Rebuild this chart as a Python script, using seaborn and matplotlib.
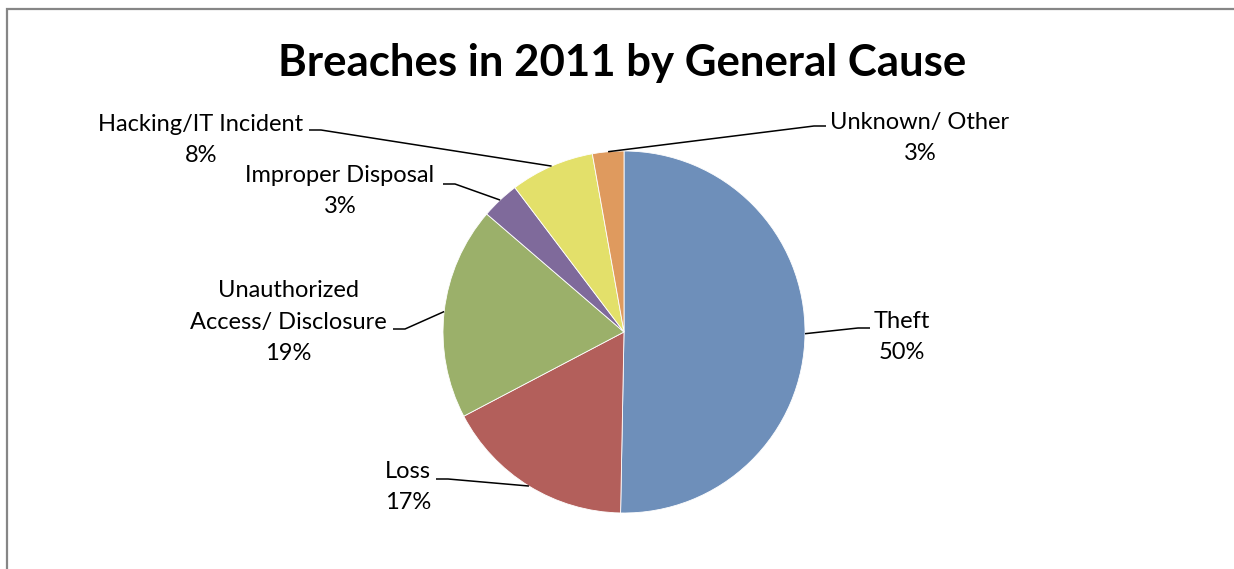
"""Breaches in 2011 by general cause - pie chart
"""
import numpy as np
import seaborn as sns
import matplotlib.pyplot as plt
from matplotlib.patches import Rectangle

sns.set_theme(style="white")
plt.rcParams["font.family"] = ["Lato", "DejaVu Sans"]
plt.rcParams["text.color"] = "black"

# data
causes = ["Theft", "Loss", "Unauthorized\nAccess/ Disclosure",
          "Improper Disposal", "Hacking/IT Incident", "Unknown/ Other"]
shares = [50.3, 17.0, 19.0, 3.4, 7.5, 2.8]
COLORS = ["#6E8FBA", "#B35F5B", "#9BB06A", "#7F6A9B", "#E3E06A", "#DF9A5E"]

# pixel geometry of the chart (center, radius) -> data units
W, H = 1234, 569
CX, CY, R = 624, 332, 181
to_data = lambda px, py: ((px - CX) / R, (CY - py) / R)

# label centres and the stub end of each leader line, in pixels
label_xy = [(902, 337), (408, 487), (288, 322), (340, 191), (201, 140), (920, 138)]
stub_end = [(870, 328), (436, 479), (393, 329), (443, 184), (309, 130), (826, 126)]
stub_dir = [-1, 1, 1, 1, 1, -1]

fig = plt.figure(figsize=(W / 100, H / 100), dpi=100)
ax = fig.add_axes([0, 0, 1, 1])

wedges, _ = ax.pie(shares, colors=COLORS, startangle=90, counterclock=False,
                   radius=1, center=(0, 0), frame=True,
                   wedgeprops=dict(edgecolor="white", linewidth=0.6))
ax.set_xlim(-CX / R, (W - CX) / R)
ax.set_ylim(-(H - CY) / R, CY / R)
ax.axis("off")

for w, name, val, lxy, sxy, d in zip(wedges, causes, shares,
                                     label_xy, stub_end, stub_dir):
    mid = np.deg2rad((w.theta1 + w.theta2) / 2)
    p0 = (np.cos(mid), np.sin(mid))
    ex, ey = to_data(*sxy)
    elbow = (ex + d * 12 / R, ey)
    ax.plot([p0[0], elbow[0], ex], [p0[1], elbow[1], ey],
            color="black", lw=1.1, solid_capstyle="butt")
    tx, ty = to_data(*lxy)
    ax.text(tx, ty, f"{name}\n{round(val):.0f}%", ha="center", va="center",
            fontsize=17, linespacing=1.6, color="black")

fig.text(622 / W, 1 - 63 / H, "Breaches in 2011 by General Cause",
         ha="center", va="center", fontsize=31.5, fontweight="bold",
         color="black")

# chart area border (left and top visible)
fig.patches.append(Rectangle((7 / W, -0.1), 1.2, 1 - 9 / H + 0.1,
                             transform=fig.transFigure, fill=False,
                             edgecolor="#868686", lw=1.6))

plt.savefig("out.png", dpi=100)
plt.close()
